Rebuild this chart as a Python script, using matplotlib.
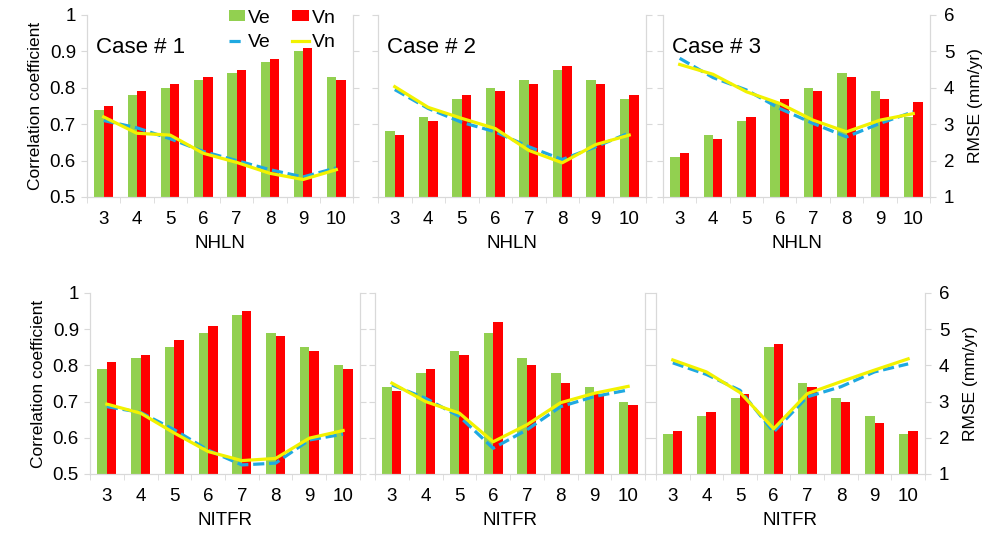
import matplotlib.pyplot as plt
import numpy as np

plt.rcParams['font.family'] = ['Liberation Sans', 'DejaVu Sans']

nodes = [3, 4, 5, 6, 7, 8, 9, 10]

# top row - number of hidden layer neurons (NHLN)
case1_corr_ve = [0.74, 0.78, 0.80, 0.82, 0.84, 0.87, 0.90, 0.83]
case1_corr_vn = [0.75, 0.79, 0.81, 0.83, 0.85, 0.88, 0.91, 0.82]
case1_rmse_ve = [3.10, 2.90, 2.60, 2.25, 2.00, 1.75, 1.55, 1.80]
case1_rmse_vn = [3.20, 2.75, 2.70, 2.20, 1.95, 1.65, 1.48, 1.75]

case2_corr_ve = [0.68, 0.72, 0.77, 0.80, 0.82, 0.85, 0.82, 0.77]
case2_corr_vn = [0.67, 0.71, 0.78, 0.79, 0.81, 0.86, 0.81, 0.78]
case2_rmse_ve = [3.95, 3.43, 3.05, 2.79, 2.38, 2.03, 2.38, 2.76]
case2_rmse_vn = [4.03, 3.46, 3.16, 2.88, 2.28, 1.94, 2.44, 2.70]

case3_corr_ve = [0.61, 0.67, 0.71, 0.76, 0.80, 0.84, 0.79, 0.72]
case3_corr_vn = [0.62, 0.66, 0.72, 0.77, 0.79, 0.83, 0.77, 0.76]
case3_rmse_ve = [4.81, 4.28, 3.94, 3.43, 3.02, 2.65, 3.02, 3.34]
case3_rmse_vn = [4.64, 4.37, 3.89, 3.57, 3.11, 2.79, 3.11, 3.29]

# bottom row - number of iterations (NITFR)
case1b_corr_ve = [0.79, 0.82, 0.85, 0.89, 0.94, 0.89, 0.85, 0.80]
case1b_corr_vn = [0.81, 0.83, 0.87, 0.91, 0.95, 0.88, 0.84, 0.79]
case1b_rmse_ve = [2.86, 2.70, 2.22, 1.66, 1.25, 1.30, 1.94, 2.10]
case1b_rmse_vn = [2.93, 2.68, 2.13, 1.62, 1.37, 1.43, 1.99, 2.20]

case2b_corr_ve = [0.74, 0.78, 0.84, 0.89, 0.82, 0.78, 0.74, 0.70]
case2b_corr_vn = [0.73, 0.79, 0.83, 0.92, 0.80, 0.75, 0.72, 0.69]
case2b_rmse_ve = [3.46, 3.09, 2.59, 1.71, 2.22, 2.86, 3.14, 3.32]
case2b_rmse_vn = [3.51, 3.00, 2.68, 1.89, 2.36, 2.97, 3.23, 3.42]

case3b_corr_ve = [0.61, 0.66, 0.71, 0.85, 0.75, 0.71, 0.66, 0.61]
case3b_corr_vn = [0.62, 0.67, 0.72, 0.86, 0.74, 0.70, 0.64, 0.62]
case3b_rmse_ve = [4.07, 3.75, 3.31, 2.16, 3.13, 3.41, 3.82, 4.04]
case3b_rmse_vn = [4.15, 3.82, 3.25, 2.25, 3.22, 3.55, 3.87, 4.18]

panels = [
    ("Case # 1", "NHLN", case1_corr_ve, case1_corr_vn, case1_rmse_ve, case1_rmse_vn),
    ("Case # 2", "NHLN", case2_corr_ve, case2_corr_vn, case2_rmse_ve, case2_rmse_vn),
    ("Case # 3", "NHLN", case3_corr_ve, case3_corr_vn, case3_rmse_ve, case3_rmse_vn),
    (None, "NITFR", case1b_corr_ve, case1b_corr_vn, case1b_rmse_ve, case1b_rmse_vn),
    (None, "NITFR", case2b_corr_ve, case2b_corr_vn, case2b_rmse_ve, case2b_rmse_vn),
    (None, "NITFR", case3b_corr_ve, case3b_corr_vn, case3b_rmse_ve, case3b_rmse_vn),
]

# axes boxes [left, bottom, width, height] in figure fraction
boxes = [
    [0.0872, 0.6325, 0.2665, 0.3396],
    [0.3788, 0.6325, 0.2685, 0.3396],
    [0.6643, 0.6325, 0.2675, 0.3396],
    [0.0902, 0.1157, 0.2705, 0.3377],
    [0.3758, 0.1157, 0.2705, 0.3377],
    [0.6573, 0.1157, 0.2695, 0.3377],
]

green = "#92D050"
red = "#FF0000"
blue = "#1FA9E1"
yellow = "#F2F200"
grey = "#D9D9D9"

fig = plt.figure(figsize=(9.98, 5.36), dpi=100)
x = np.array(nodes)
w = 0.28

for i, (case, xlab, cve, cvn, rve, rvn) in enumerate(panels):
    ax = fig.add_axes(boxes[i])
    b1 = ax.bar(x - w / 2, cve, w, color=green, label="Ve")
    b2 = ax.bar(x + w / 2, cvn, w, color=red, label="Vn")
    ax.set_ylim(0.5, 1)
    ax.set_xlim(2.5, 10.5)
    ax.set_yticks([0.5, 0.6, 0.7, 0.8, 0.9, 1.0])
    ax.set_yticklabels(["0.5", "0.6", "0.7", "0.8", "0.9", "1"])
    ax.set_xticks(x)
    ax.set_xticks(np.arange(2.5, 11, 1), minor=True)
    ax.tick_params(axis="x", which="major", length=0, pad=10, labelsize=13.5)
    ax.tick_params(axis="x", which="minor", length=4, color=grey)
    ax.tick_params(axis="y", length=4, color=grey, labelsize=13.5, pad=4)
    ax.set_xlabel(xlab, fontsize=13.5, labelpad=5)

    ax2 = ax.twinx()
    l1, = ax2.plot(x, rve, color=blue, lw=2.3, ls=(0, (3.5, 1.5)), label="Ve")
    l2, = ax2.plot(x, rvn, color=yellow, lw=2.3, label="Vn")
    ax2.set_ylim(1, 6)
    ax2.set_yticks([1, 2, 3, 4, 5, 6])
    ax2.tick_params(axis="y", length=4, color=grey, labelsize=13.5, pad=6)

    for a in (ax, ax2):
        a.spines["top"].set_visible(False)
        for s in ("left", "right", "bottom"):
            a.spines[s].set_color(grey)

    if i % 3 == 0:
        ax.set_ylabel("Correlation coefficient", fontsize=12.5, labelpad=5)
    else:
        ax.tick_params(axis="y", labelleft=False)
    if i % 3 == 2:
        ax2.set_ylabel("RMSE (mm/yr)", fontsize=12.5, labelpad=10)
    else:
        ax2.tick_params(axis="y", labelright=False)

    if case:
        ax.text(0.035, 0.82, case, transform=ax.transAxes, fontsize=16, va="center")

    if i == 0:
        fig.legend([b1, l1, b2, l2], ["Ve", "Ve", "Vn", "Vn"], ncol=2,
                   loc="upper left", bbox_to_anchor=(0.229, 0.982), frameon=False,
                   fontsize=14, handlelength=0.85, handleheight=0.5,
                   handletextpad=0.15, columnspacing=1.1, labelspacing=0.4,
                   borderaxespad=0, borderpad=0)

fig.savefig("out.png", dpi=100)
